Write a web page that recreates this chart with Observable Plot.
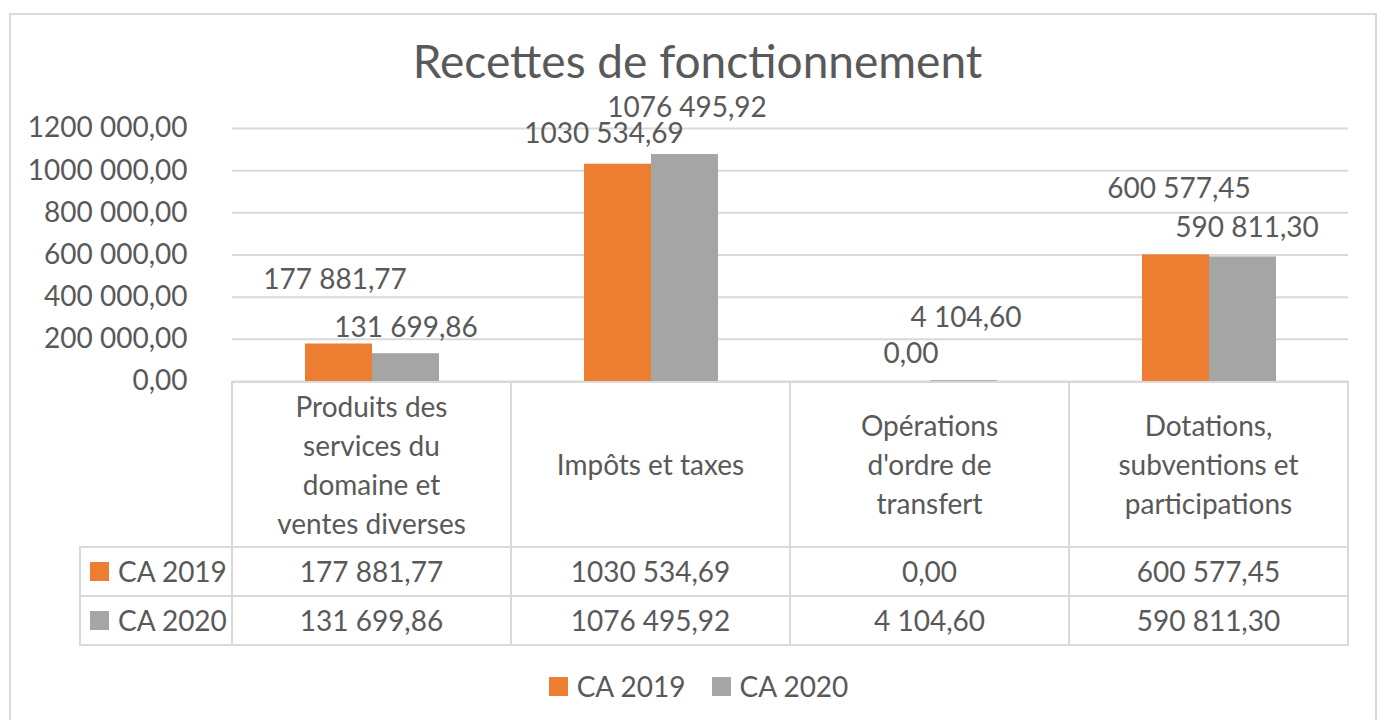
<!DOCTYPE html>
<html>
<head>
<meta charset="utf-8">
<script src="https://cdn.jsdelivr.net/npm/d3@7"></script>
<script src="https://cdn.jsdelivr.net/npm/@observablehq/plot@0.6"></script>
<style>
  html, body { margin: 0; padding: 0; background: #fff; }
  body { width: 1381px; height: 720px; overflow: hidden; position: relative; font-family: Lato, "Open Sans", sans-serif; color: #595959; }
  .frame { position: absolute; left: 9px; top: 13px; width: 1368px; height: 720px; border: 2px solid #d9d9d9; box-sizing: border-box; }
  .title { position: absolute; left: 7px; width: 1381px; top: 33px; text-align: center; font-size: 46px; line-height: 56px; white-space: nowrap; }
  .cell { position: absolute; box-sizing: border-box; border: 2px solid #d9d9d9; display: flex; align-items: center; justify-content: center; text-align: center; font-size: 28px; line-height: 39px; }
  .cell .inner { max-width: 225px; }
  .rowlab { justify-content: flex-start; padding-left: 9px; }
  .sw { display: inline-block; width: 19px; height: 19px; margin-right: 9px; }
  .legend { position: absolute; left: 8px; width: 1381px; top: 668px; display: flex; justify-content: center; align-items: center; font-size: 28px; line-height: 36px; }
  .legend .item { display: flex; align-items: center; margin: 0 13px; }
  #chart { position: absolute; left: 0; top: 0; }
</style>
</head>
<body>
<div class="frame"></div>
<div class="title" id="title"></div>
<div id="chart"></div>
<div id="table"></div>
<div class="legend" id="legend"></div>
<script>
const chartTitle = "Recettes de fonctionnement";
const categories = [
  "Produits des services du domaine et ventes diverses",
  "Impôts et taxes",
  "Opérations d'ordre de transfert",
  "Dotations, subventions et participations"
];
const seriesNames = ["CA 2019", "CA 2020"];
const ca2019 = [177881.77, 1030534.69, 0.00, 600577.45];
const ca2020 = [131699.86, 1076495.92, 4104.60, 590811.30];
const yTicks = [0, 200000, 400000, 600000, 800000, 1000000, 1200000];

// styles (not data)
const colors = ["#ED7D31", "#A5A5A5"];
// pixel nudges for each data label [series][category] -> [dx, dy]
const labelNudge = [
  [[-4, -64], [-14, -30], [14, -27], [3, -66]],
  [[0, -26], [2, -47], [2, -63], [4, -29]]
];

function fmt(v) {
  let [i, d] = v.toFixed(2).split(".");
  if (i.length > 3) i = i.slice(0, -3) + " " + i.slice(-3);
  return i + "," + d;
}

const rows = [];
seriesNames.forEach((s, si) => {
  const vals = si === 0 ? ca2019 : ca2020;
  categories.forEach((c, ci) => rows.push({series: s, category: c, value: vals[ci], si, ci}));
});

document.getElementById("title").textContent = chartTitle;

const labelMarks = rows.map(r => Plot.text([r], {
  fx: "category", x: "series", y: "value",
  text: d => fmt(d.value),
  dx: labelNudge[r.si][r.ci][0], dy: labelNudge[r.si][r.ci][1],
  fill: "#595959", fontSize: 28
}));

const plot = Plot.plot({
  width: 1381,
  height: 405,
  marginTop: 128,
  marginBottom: 24,
  marginLeft: 232,
  marginRight: 33,
  style: {fontFamily: "Lato, 'Open Sans', sans-serif", fontSize: "28px", color: "#595959", background: "transparent"},
  fx: {domain: categories, padding: 0, axis: null},
  x: {domain: seriesNames, paddingInner: 0, paddingOuter: 1.08, axis: null},
  y: {domain: [0, 1200000], axis: null},
  color: {domain: seriesNames, range: colors},
  marks: [
    Plot.ruleY(yTicks, {stroke: "#d9d9d9", strokeWidth: 2, strokeOpacity: 1}),
    Plot.barY(rows, {fx: "category", x: "series", y: "value", fill: "series"}),
    Plot.axisY({ticks: yTicks, tickFormat: fmt, tickSize: 0, tickPadding: 45, fontSize: 28, fill: "#595959", label: null}),
    ...labelMarks
  ]
});
document.getElementById("chart").appendChild(plot);

// data table aligned on the fx scale
const fx = plot.scale("fx");
const bw = fx.bandwidth !== undefined ? fx.bandwidth : (1348 - 232) / 4;
const table = document.getElementById("table");
const headTop = 382, headH = 165, rowH = 49;
const colLeft = c => {
  const i = categories.indexOf(c);
  return fx.range[0] + i * bw;
};
function addCell(x, y, w, h, html, cls) {
  const d = document.createElement("div");
  d.className = "cell" + (cls ? " " + cls : "");
  d.style.left = (x - 1) + "px";
  d.style.top = (y - 1) + "px";
  d.style.width = (w + 2) + "px";
  d.style.height = (h + 2) + "px";
  d.innerHTML = html;
  table.appendChild(d);
}
const labelLeft = 80;
categories.forEach(c => addCell(colLeft(c), headTop, bw, headH, `<span class="inner">${c}</span>`));
seriesNames.forEach((s, si) => {
  const y = headTop + headH + si * rowH;
  addCell(labelLeft, y, colLeft(categories[0]) - labelLeft, rowH,
    `<span class="sw" style="background:${colors[si]}"></span>${s}`, "rowlab");
  const vals = si === 0 ? ca2019 : ca2020;
  categories.forEach((c, ci) => addCell(colLeft(c), y, bw, rowH, fmt(vals[ci])));
});

const legend = document.getElementById("legend");
seriesNames.forEach((s, si) => {
  const it = document.createElement("div");
  it.className = "item";
  it.innerHTML = `<span class="sw" style="background:${colors[si]}"></span>${s}`;
  legend.appendChild(it);
});
</script>
</body>
</html>
